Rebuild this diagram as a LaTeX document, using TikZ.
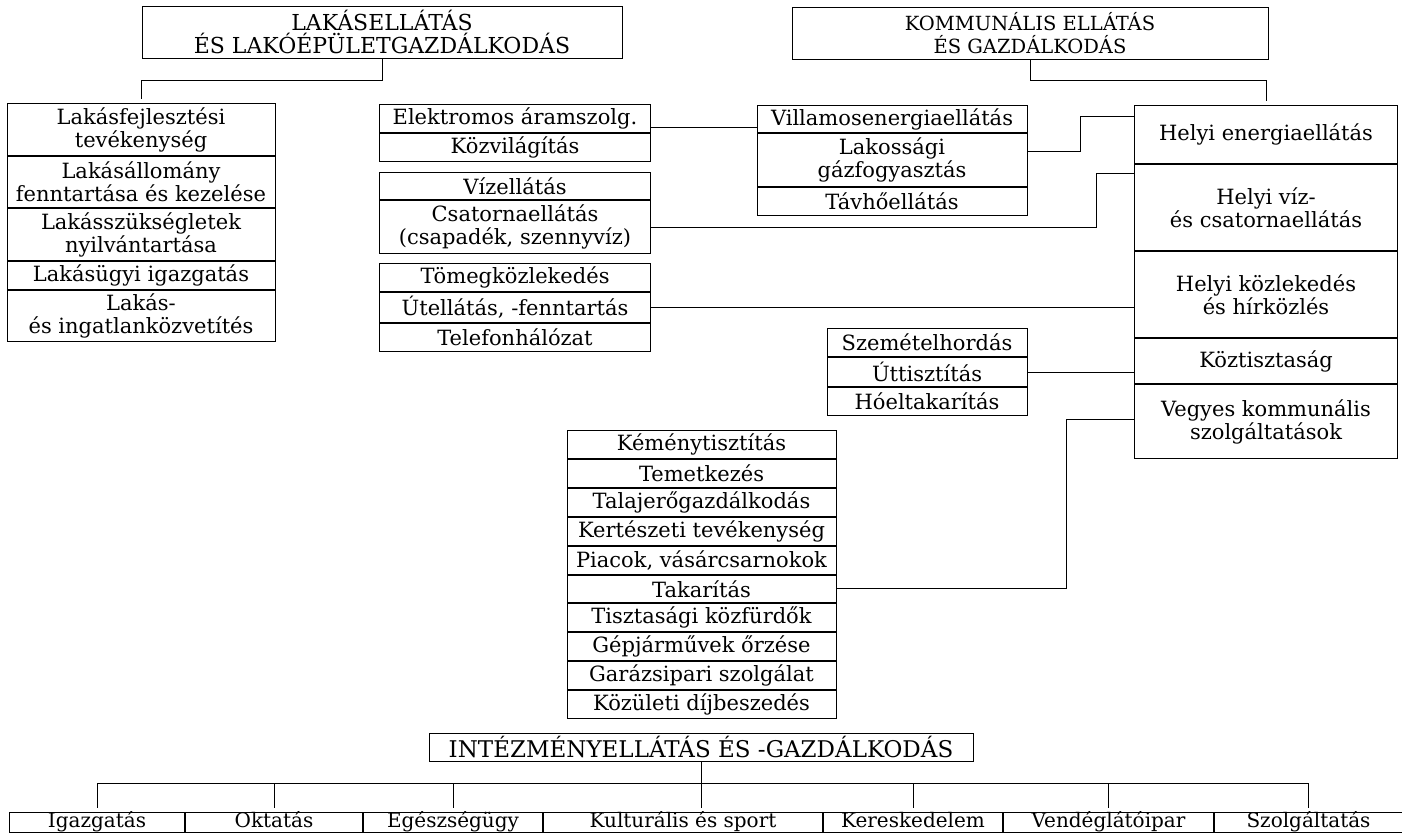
\documentclass[tikz,border=0pt]{standalone}
\usepackage{fontspec}
\setmainfont{DejaVu Serif}
\usetikzlibrary{positioning}

\begin{document}
\begin{tikzpicture}[x=1pt, y=-1pt, line width=1pt,
  hdr/.style={draw, align=center, inner sep=0pt, minimum width=#1, minimum height=52pt, font=\fontsize{22}{23}\selectfont},
  cell/.style={draw, align=center, inner sep=0pt, minimum width=#1, minimum height=28pt, font=\fontsize{21}{23}\selectfont},
  low/.style={draw, inner sep=0pt, minimum width=#1, minimum height=20pt, text height=13pt, text depth=4pt, font=\fontsize{20}{23}\selectfont},
  drop/.style={shorten >=4pt}]

  \useasboundingbox (0,0) rectangle (1402,835);

  % Headers
  \node[hdr=480pt] (lakhdr) at (382,32) {LAKÁSELLÁTÁS\\ÉS LAKÓÉPÜLETGAZDÁLKODÁS};
  \node[hdr=476pt, font=\fontsize{19.5}{23}\selectfont] (komhdr) at (1030,33) {KOMMUNÁLIS ELLÁTÁS\\ÉS GAZDÁLKODÁS};
  \node[hdr=544pt, minimum height=28pt, font=\fontsize{23}{23}\selectfont] (intez) at (701,747) {INTÉZMÉNYELLÁTÁS ÉS -GAZDÁLKODÁS};

  % Lakás column
  \node[cell=268pt, minimum height=52pt, anchor=north] (lak1) at (141,103) {Lakásfejlesztési\\tevékenység};
  \node[cell=268pt, minimum height=51pt, below=0pt of lak1] (lak2) {Lakásállomány\\fenntartása és kezelése};
  \node[cell=268pt, minimum height=52pt, below=0pt of lak2] (lak3) {Lakásszükségletek\\nyilvántartása};
  \node[cell=268pt, below=0pt of lak3] (lak4) {Lakásügyi igazgatás};
  \node[cell=268pt, minimum height=51pt, below=0pt of lak4] (lak5) {Lakás-\\és ingatlanközvetítés};

  % Network groups
  \node[cell=271pt, anchor=north] (elek1) at (515,104) {Elektromos áramszolg.};
  \node[cell=271pt, below=0pt of elek1] (elek2) {Közvilágítás};
  \node[cell=271pt, minimum height=27pt, anchor=north] (viz1) at (515,172) {Vízellátás};
  \node[cell=271pt, minimum height=53pt, below=0pt of viz1] (viz2) {Csatornaellátás\\(csapadék, szennyvíz)};
  \node[cell=271pt, anchor=north] (tom1) at (515,263) {Tömegközlekedés};
  \node[cell=271pt, minimum height=30pt, below=0pt of tom1] (tom2) {Útellátás, -fenntartás};
  \node[cell=271pt, below=0pt of tom2] (tom3) {Telefonhálózat};

  % Energy group
  \node[cell=270pt, minimum height=27pt, anchor=north] (vill1) at (892,105) {Villamosenergiaellátás};
  \node[cell=270pt, minimum height=53pt, below=0pt of vill1] (vill2) {Lakossági\\gázfogyasztás};
  \node[cell=270pt, below=0pt of vill2] (vill3) {Távhőellátás};

  % Helyi column
  \node[cell=263pt, minimum height=58pt, anchor=north] (h1) at (1266,105) {Helyi energiaellátás};
  \node[cell=263pt, minimum height=86pt, below=0pt of h1] (h2) {Helyi víz-\\és csatornaellátás};
  \node[cell=263pt, minimum height=86pt, below=0pt of h2] (h3) {Helyi közlekedés\\és hírközlés};
  \node[cell=263pt, minimum height=45pt, below=0pt of h3] (h4) {Köztisztaság};
  \node[cell=263pt, minimum height=74pt, below=0pt of h4] (h5) {Vegyes kommunális\\szolgáltatások};

  % Cleaning group
  \node[cell=200pt, anchor=north] (szem1) at (927,328) {Szemételhordás};
  \node[cell=200pt, minimum height=29pt, below=0pt of szem1] (szem2) {Úttisztítás};
  \node[cell=200pt, below=0pt of szem2] (szem3) {Hóeltakarítás};

  % Services group
  \node[cell=269pt, minimum height=27.9pt, anchor=north] (kem1) at (701.5,430) {Kéménytisztítás};
  \node[cell=269pt, minimum height=27.9pt, below=0pt of kem1] (kem2) {Temetkezés};
  \node[cell=269pt, minimum height=27.9pt, below=0pt of kem2] (kem3) {Talajerőgazdálkodás};
  \node[cell=269pt, minimum height=27.9pt, below=0pt of kem3] (kem4) {Kertészeti tevékenység};
  \node[cell=269pt, minimum height=27.9pt, below=0pt of kem4] (kem5) {Piacok, vásárcsarnokok};
  \node[cell=269pt, minimum height=27.9pt, below=0pt of kem5] (kem6) {Takarítás};
  \node[cell=269pt, minimum height=27.9pt, below=0pt of kem6] (kem7) {Tisztasági közfürdők};
  \node[cell=269pt, minimum height=27.9pt, below=0pt of kem7] (kem8) {Gépjárművek őrzése};
  \node[cell=269pt, minimum height=27.9pt, below=0pt of kem8] (kem9) {Garázsipari szolgálat};
  \node[cell=269pt, minimum height=27.9pt, below=0pt of kem9] (kem10) {Közületi díjbeszedés};

  % Institutions row
  \node[low=175pt, anchor=north west] (igaz) at (9,812) {Igazgatás};
  \node[low=177pt, right=0pt of igaz] (okt) {Oktatás};
  \node[low=179pt, right=0pt of okt] (eg) {Egészségügy};
  \node[low=279pt, right=0pt of eg] (kult) {Kulturális és sport};
  \node[low=179pt, right=0pt of kult] (ker) {Kereskedelem};
  \node[low=210pt, right=0pt of ker] (vend) {Vendéglátóipar};
  \node[low=188pt, right=0pt of vend] (szolg) {Szolgáltatás};

  % Header links
  \draw[drop] (lakhdr.south) -- ++(0,22) -| (lak1.north);
  \draw[drop] (komhdr.south) -- ++(0,21) -| (h1.north);

  % Links into the Helyi column
  \coordinate (e1) at ([yshift=-9pt]elek1.east);
  \draw (e1) -- (e1 -| vill1.west);
  \coordinate (v2) at ([yshift=9pt]vill2.east);
  \coordinate (k1) at (1080,116);
  \draw (v2) -| (k1) -- (k1 -| h1.west);
  \coordinate (k2) at (1096,173);
  \draw (viz2.east) -| (k2) -- (k2 -| h2.west);
  \draw (tom2.east) -- (tom2.east -| h3.west);
  \draw (szem2.east) -- (szem2.east -| h4.west);
  \coordinate (k3) at (1066,419);
  \draw (kem6.east) -| (k3) -- (k3 -| h5.west);

  % Institutions tree
  \coordinate (bus) at (0,783);
  \draw (igaz.north |- bus) -- (szolg.north |- bus);
  \draw[drop] (intez.south) -- (intez.south |- kult.north);
  \draw[drop] (igaz.north |- bus) -- (igaz.north);
  \draw[drop] (okt.north |- bus) -- (okt.north);
  \draw[drop] (eg.north |- bus) -- (eg.north);
  \draw[drop] (ker.north |- bus) -- (ker.north);
  \draw[drop] (vend.north |- bus) -- (vend.north);
  \draw[drop] (szolg.north |- bus) -- (szolg.north);

\end{tikzpicture}
\end{document}
